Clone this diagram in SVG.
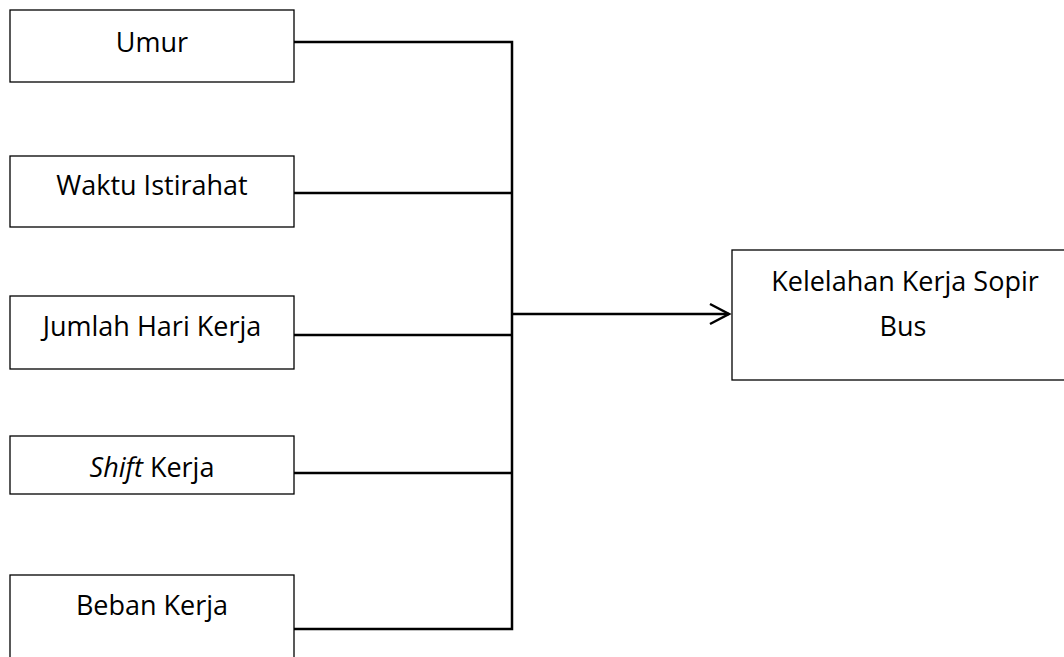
<svg xmlns="http://www.w3.org/2000/svg" width="1064" height="657" viewBox="0 0 1064 657">
<style>
.box{fill:#fff;stroke:#000;stroke-width:1.3}
.t{font-family:"Open Sans","Noto Sans",sans-serif;font-size:27px;fill:#000;text-anchor:middle}
.c{fill:none;stroke:#000;stroke-width:2.5}
</style>
<rect width="1064" height="657" fill="#fff"/>
<g id="connectors">
<path class="c" d="M294 42H512V629H294M294 193H512M294 335H512M294 473H512M512 314H729"/>
<path class="c" d="M710 304L729 314L710 324"/>
</g>
<g id="umur"><rect class="box" x="10" y="10" width="284" height="72"/><text class="t" x="152" y="52">Umur</text></g>
<g id="waktu"><rect class="box" x="10" y="156" width="284" height="71"/><text class="t" x="152" y="195">Waktu Istirahat</text></g>
<g id="jumlah"><rect class="box" x="10" y="296" width="284" height="73"/><text class="t" x="152" y="336">Jumlah Hari Kerja</text></g>
<g id="shift"><rect class="box" x="10" y="436" width="284" height="58"/><text class="t" x="152" y="477"><tspan font-style="italic">Shift</tspan> Kerja</text></g>
<g id="beban"><rect class="box" x="10" y="575" width="284" height="100"/><text class="t" x="152" y="615">Beban Kerja</text></g>
<g id="kelelahan"><rect class="box" x="732" y="250" width="340" height="130"/><text class="t" x="905" y="291">Kelelahan Kerja Sopir</text><text class="t" x="903" y="336">Bus</text></g>
</svg>
